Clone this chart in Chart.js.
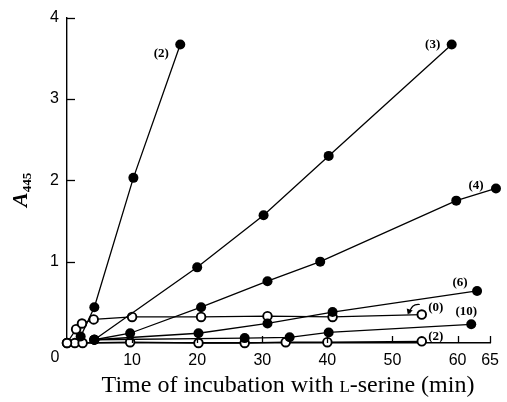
<!DOCTYPE html>
<html>
<head>
<meta charset="utf-8">
<script src="https://cdn.jsdelivr.net/npm/chart.js@4"></script>
<style>body{margin:0;background:#fff}</style>
</head>
<body>
<canvas id="chart" width="507" height="402"></canvas>
<script>
// values (time in min, A445)
const xTicks = [0, 10, 20, 30, 40, 50, 60, 65];
const yTicks = [1, 2, 3, 4];

const filled2X = [2.1, 4.2, 10.2, 17.4];
const filled2Y = [0.08, 0.44, 2.03, 3.67];
const filled3X = [4.2, 20, 30.2, 40.2, 59.1];
const filled3Y = [0.04, 0.93, 1.57, 2.30, 3.67];
const filled4X = [4.2, 9.7, 20.6, 30.8, 38.9, 59.8, 65.9];
const filled4Y = [0.04, 0.12, 0.44, 0.76, 1.0, 1.75, 1.90];
const filled6X = [4.2, 20.2, 30.8, 40.8, 63];
const filled6Y = [0.04, 0.12, 0.24, 0.38, 0.64];
const filled10X = [4.2, 27.3, 34.2, 40.2, 62.1];
const filled10Y = [0.04, 0.06, 0.07, 0.13, 0.23];
const open0X = [0, 1.4, 2.3, 4.1, 10, 20.6, 30.8, 40.8, 54.5];
const open0Y = [0, 0.17, 0.24, 0.29, 0.32, 0.32, 0.33, 0.32, 0.35];
const open2X = [0, 1.2, 2.4, 9.7, 20.2, 27.3, 33.6, 40, 54.5];
const open2Y = [0, 0, 0, 0.01, 0, 0, 0.01, 0.01, 0.02];

function pts(xs, ys) {
    return xs.map((x, i) => ({ x: x, y: ys[i] }));
}

function filledSet(label, xs, ys) {
    return {
        label: label,
        data: pts(xs, ys),
        showLine: true,
        borderColor: '#000',
        backgroundColor: '#000',
        borderWidth: 1.3,
        pointRadius: 5,
        pointHoverRadius: 9,
        pointBorderWidth: 0,
        clip: false
    };
}

function openSet(label, xs, ys) {
    return {
        label: label,
        data: pts(xs, ys),
        showLine: true,
        borderColor: '#000',
        backgroundColor: '#fff',
        pointBackgroundColor: '#fff',
        borderWidth: 1.3,
        pointRadius: 4.3,
        pointHoverRadius: 9,
        pointBorderWidth: 1.9,
        clip: false
    };
}

// label text + pixel offset from the last point of each series
const seriesLabels = [
    ['(2)', 0, -19, 9],
    ['(3)', 1, -19, 0],
    ['(4)', 2, -20, -3],
    ['(6)', 3, -17, -8],
    ['(10)', 4, -5, -13],
    ['(0)', 5, 14, -7],
    ['(2)', 6, 14, -5]
];

const decor = {
    id: 'decor',
    beforeDraw(chart) {
        const ctx = chart.ctx;
        ctx.save();
        ctx.fillStyle = '#fff';
        ctx.fillRect(0, 0, chart.width, chart.height);
        ctx.restore();
    },
    afterDraw(chart) {
        const ctx = chart.ctx;
        const xs = chart.scales.x;
        const ys = chart.scales.y;
        const area = chart.chartArea;
        ctx.save();
        ctx.strokeStyle = '#000';
        ctx.lineWidth = 1.3;
        // inward tick marks
        xTicks.forEach(v => {
            if (v === 0) return;
            const px = Math.round(xs.getPixelForValue(v)) + 0.5;
            ctx.beginPath();
            ctx.moveTo(px, area.bottom);
            ctx.lineTo(px, area.bottom - 7);
            ctx.stroke();
        });
        yTicks.forEach(v => {
            const py = Math.round(ys.getPixelForValue(v)) + 0.5;
            ctx.beginPath();
            ctx.moveTo(area.left, py);
            ctx.lineTo(area.left + 8, py);
            ctx.stroke();
        });

        // origin "0"
        ctx.fillStyle = '#000';
        ctx.font = '16px "Liberation Sans"';
        ctx.textAlign = 'center';
        ctx.textBaseline = 'middle';
        ctx.fillText('0', area.left - 12, area.bottom + 15);

        // series labels
        ctx.font = 'bold 13px "Liberation Serif"';
        seriesLabels.forEach(([txt, di, dx, dy]) => {
            const meta = chart.getDatasetMeta(di);
            const last = meta.data[meta.data.length - 1];
            ctx.fillText(txt, last.x + dx, last.y + dy);
        });

        // curved arrow next to (0)
        const m0 = chart.getDatasetMeta(5);
        const e0 = m0.data[m0.data.length - 1];
        const sx = e0.x - 2, sy = e0.y - 10;
        const tx = e0.x - 12, ty = e0.y - 1;
        ctx.lineWidth = 1.2;
        ctx.beginPath();
        ctx.moveTo(sx, sy);
        ctx.quadraticCurveTo(e0.x - 11, e0.y - 11, tx, ty);
        ctx.stroke();
        ctx.beginPath();
        ctx.moveTo(tx - 2, ty + 1);
        ctx.lineTo(tx - 3, ty - 5);
        ctx.lineTo(tx + 3, ty - 3);
        ctx.closePath();
        ctx.fill();

        // x axis title
        ctx.textBaseline = 'alphabetic';
        ctx.textAlign = 'left';
        const p1 = 'Time of incubation with ';
        const p2 = 'L';
        const p3 = '-serine (min)';
        const f1 = '24px "Liberation Serif"';
        const f2 = '17px "Liberation Serif"';
        ctx.font = f1;
        const w1 = ctx.measureText(p1).width;
        const w3 = ctx.measureText(p3).width;
        ctx.font = f2;
        const w2 = ctx.measureText(p2).width;
        const x0 = 288 - (w1 + w2 + w3) / 2;
        const base = 392;
        ctx.font = f1;
        ctx.fillText(p1, x0, base);
        ctx.font = f2;
        ctx.fillText(p2, x0 + w1, base);
        ctx.font = f1;
        ctx.fillText(p3, x0 + w1 + w2, base);

        // y axis title A445
        ctx.translate(27, 191);
        ctx.rotate(-Math.PI / 2);
        ctx.font = 'italic bold 22px "Liberation Serif"';
        const wa = ctx.measureText('A').width;
        ctx.fillText('A', -16, 0);
        ctx.font = 'bold 13px "Liberation Serif"';
        ctx.fillText('445', -16 + wa, 4);
        ctx.restore();
    }
};

new Chart(document.getElementById('chart'), {
    type: 'scatter',
    data: {
        datasets: [
            filledSet('(2)', filled2X, filled2Y),
            filledSet('(3)', filled3X, filled3Y),
            filledSet('(4)', filled4X, filled4Y),
            filledSet('(6)', filled6X, filled6Y),
            filledSet('(10)', filled10X, filled10Y),
            openSet('(0)', open0X, open0Y),
            openSet('(2) open', open2X, open2Y)
        ]
    },
    options: {
        responsive: false,
        animation: false,
        events: [],
        layout: { padding: { left: 0, right: 11, top: 16, bottom: 0 } },
        plugins: {
            legend: { display: false },
            tooltip: { enabled: false }
        },
        scales: {
            x: {
                type: 'linear',
                min: 0,
                max: 65,
                afterBuildTicks: s => { s.ticks = xTicks.map(v => ({ value: v })); },
                afterFit: s => { s.height = 59; },
                grid: { display: false, drawTicks: false },
                border: { color: '#000', width: 1.4 },
                ticks: {
                    color: '#000',
                    padding: 8,
                    maxRotation: 0,
                    autoSkip: false,
                    font: { family: 'Liberation Sans', size: 16 },
                    callback: v => (v === 0 ? '' : String(v))
                }
            },
            y: {
                min: 0,
                max: 4,
                afterBuildTicks: s => { s.ticks = [0].concat(yTicks).map(v => ({ value: v })); },
                afterFit: s => { s.width = 67; },
                grid: { display: false, drawTicks: false },
                border: { color: '#000', width: 1.4 },
                ticks: {
                    color: '#000',
                    padding: 8,
                    font: { family: 'Liberation Sans', size: 16 },
                    callback: v => (v === 0 ? '' : String(v))
                }
            }
        }
    },
    plugins: [decor]
});
</script>
</body>
</html>
